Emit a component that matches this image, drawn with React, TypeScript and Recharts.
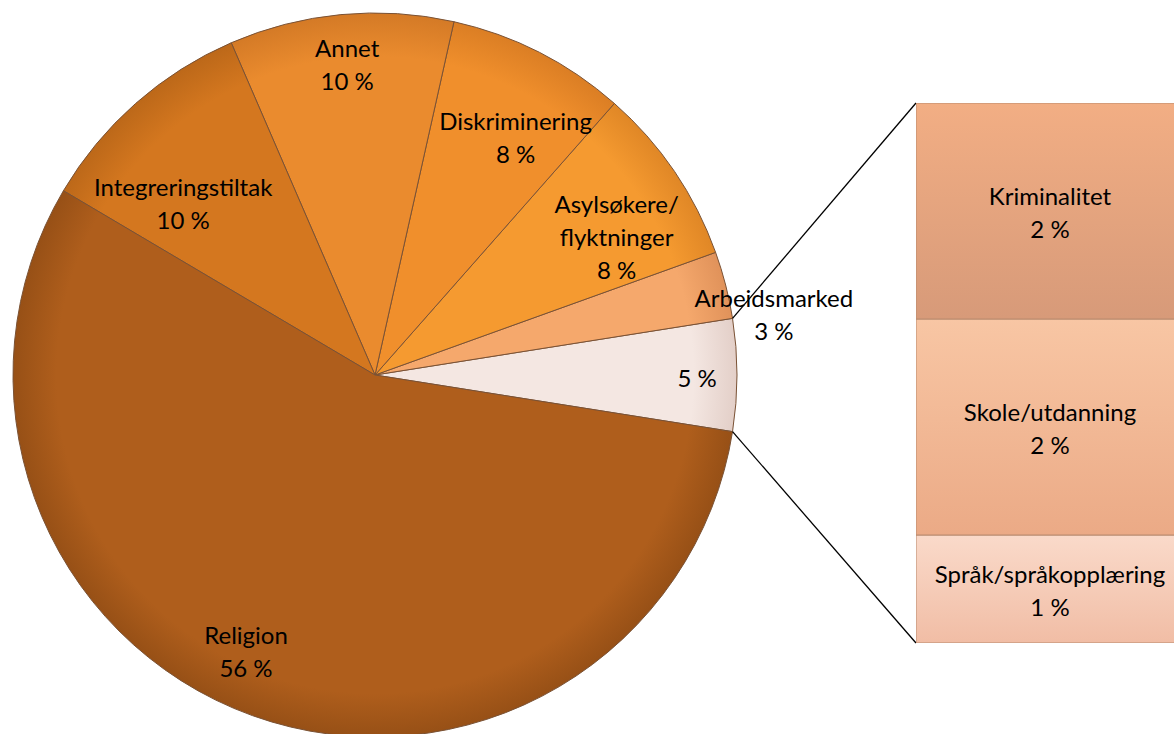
import { Bar, BarChart, Cell, LabelList, Pie, PieChart, XAxis, YAxis } from "recharts";

// pie slices, counter-clockwise from the "other" slice at 3 o'clock
const pieNames = ["", "Arbeidsmarked", "Asylsøkere/\nflyktninger", "Diskriminering", "Annet", "Integreringstiltak", "Religion"];
const pieValues = [5, 3, 8, 8, 10, 10, 56];
const pieColors = ["#F4E7E2", "#F5A86C", "#F59A30", "#F08F2C", "#EA8B2E", "#D4771F", "#AF5E1C"];
const pieEdge = ["#E3CFC8", "#E0925A", "#E08726", "#DB7E24", "#D47A26", "#BC6819", "#975016"];

// breakdown of the 5 % slice, bottom to top
const barNames = ["Språk/språkopplæring", "Skole/utdanning", "Kriminalitet"];
const barValues = [1, 2, 2];
const barTop = ["#FADACA", "#F8C6A4", "#F2AE84"];
const barBottom = ["#F1BDA5", "#EBAA86", "#D79A79"];

const barRow = [{ name: "Andre", s0: barValues[0], s1: barValues[1], s2: barValues[2] }];

const CX = 375;
const CY = 375;
const R = 362;
const START = -9;
const BAR_X = 916;
const BAR_Y = 103;
const BAR_W = 268;
const BAR_H = 540;

const FONT = "Lato, 'Open Sans', sans-serif";
const LINE_H = 33;

// label radius (fraction of R) and angle nudge per slice
const labelPlace = [
  { r: 0.89, da: -0.4 },
  { r: 1.115, da: -5.6 },
  { r: 0.77, da: -4.3 },
  { r: 0.765, da: -3.5 },
  { r: 0.864, da: -0.3 },
  { r: 0.713, da: 6.6 },
  { r: 0.84, da: -5.3 },
];

const pieData = pieNames.map((name, i) => ({ name, value: pieValues[i] }));

function MultiLine({ x, y, lines }: { x: number; y: number; lines: string[] }) {
  const y0 = y - ((lines.length - 1) * LINE_H) / 2;
  return (
    <text
      x={x}
      y={y0}
      textAnchor="middle"
      dominantBaseline="central"
      fontFamily={FONT}
      fontSize={24}
      fill="#000"
    >
      {lines.map((l, i) => (
        <tspan key={i} x={x} y={y0 + i * LINE_H}>
          {l}
        </tspan>
      ))}
    </text>
  );
}

const renderPieLabel = (props: any) => {
  const { cx, cy, midAngle, outerRadius, index } = props;
  const p = labelPlace[index];
  const a = ((midAngle + p.da) * Math.PI) / 180;
  const x = cx + outerRadius * p.r * Math.cos(a);
  const y = cy - outerRadius * p.r * Math.sin(a);
  const lines = [...pieNames[index].split("\n").filter(Boolean), `${pieValues[index]} %`];
  return <MultiLine x={x} y={y} lines={lines} />;
};

const barLabel = (i: number) => (props: any) => {
  const { x, y, width, height } = props;
  return (
    <MultiLine
      x={Number(x) + Number(width) / 2}
      y={Number(y) + Number(height) / 2}
      lines={[barNames[i], `${barValues[i]} %`]}
    />
  );
};

export default function App() {
  const pieSpan = (pieValues[0] / 100) * 360;
  const a1 = ((START + pieSpan) * Math.PI) / 180;
  const a0 = (START * Math.PI) / 180;
  const p1 = { x: CX + R * Math.cos(a1), y: CY - R * Math.sin(a1) };
  const p0 = { x: CX + R * Math.cos(a0), y: CY - R * Math.sin(a0) };

  return (
    <div style={{ position: "fixed", left: 0, top: 0, width: 1174, height: 734, overflow: "hidden", background: "#fff" }}>
      <div style={{ position: "absolute", left: 0, top: 0 }}>
        <PieChart width={1174} height={734} margin={{ top: 0, right: 0, bottom: 0, left: 0 }}>
          <defs>
            {pieColors.map((c, i) => (
              <radialGradient key={i} id={`pg${i}`} gradientUnits="userSpaceOnUse" cx={CX} cy={CY} r={R}>
                <stop offset="0%" stopColor={c} />
                <stop offset="88%" stopColor={c} />
                <stop offset="100%" stopColor={pieEdge[i]} />
              </radialGradient>
            ))}
          </defs>
          <Pie
            data={pieData}
            dataKey="value"
            nameKey="name"
            cx={CX}
            cy={CY}
            outerRadius={R}
            startAngle={START}
            endAngle={START + 360}
            stroke="#7A5235"
            strokeWidth={1}
            label={renderPieLabel}
            labelLine={false}
            isAnimationActive={false}
          >
            {pieData.map((_, i) => (
              <Cell key={i} fill={`url(#pg${i})`} />
            ))}
          </Pie>
        </PieChart>
      </div>
      <svg style={{ position: "absolute", left: 0, top: 0 }} width={1174} height={734}>
        <line x1={p1.x} y1={p1.y} x2={BAR_X} y2={BAR_Y} stroke="#000" strokeWidth={1.3} />
        <line x1={p0.x} y1={p0.y} x2={BAR_X} y2={BAR_Y + BAR_H} stroke="#000" strokeWidth={1.3} />
      </svg>
      <div style={{ position: "absolute", left: BAR_X, top: BAR_Y }}>
        <BarChart
          width={BAR_W}
          height={BAR_H}
          data={barRow}
          margin={{ top: 0, right: 0, bottom: 0, left: 0 }}
          barCategoryGap={0}
        >
          <defs>
            {barTop.map((c, i) => (
              <linearGradient key={i} id={`bg${i}`} x1="0" y1="0" x2="0" y2="1">
                <stop offset="0%" stopColor={c} />
                <stop offset="100%" stopColor={barBottom[i]} />
              </linearGradient>
            ))}
          </defs>
          <XAxis dataKey="name" hide />
          <YAxis hide domain={[0, 5]} />
          {barValues.map((_, i) => (
            <Bar
              key={i}
              dataKey={`s${i}`}
              stackId="a"
              fill={`url(#bg${i})`}
              stroke="#B88A6E"
              strokeWidth={1}
              isAnimationActive={false}
            >
              <LabelList content={barLabel(i)} />
            </Bar>
          ))}
        </BarChart>
      </div>
    </div>
  );
}
